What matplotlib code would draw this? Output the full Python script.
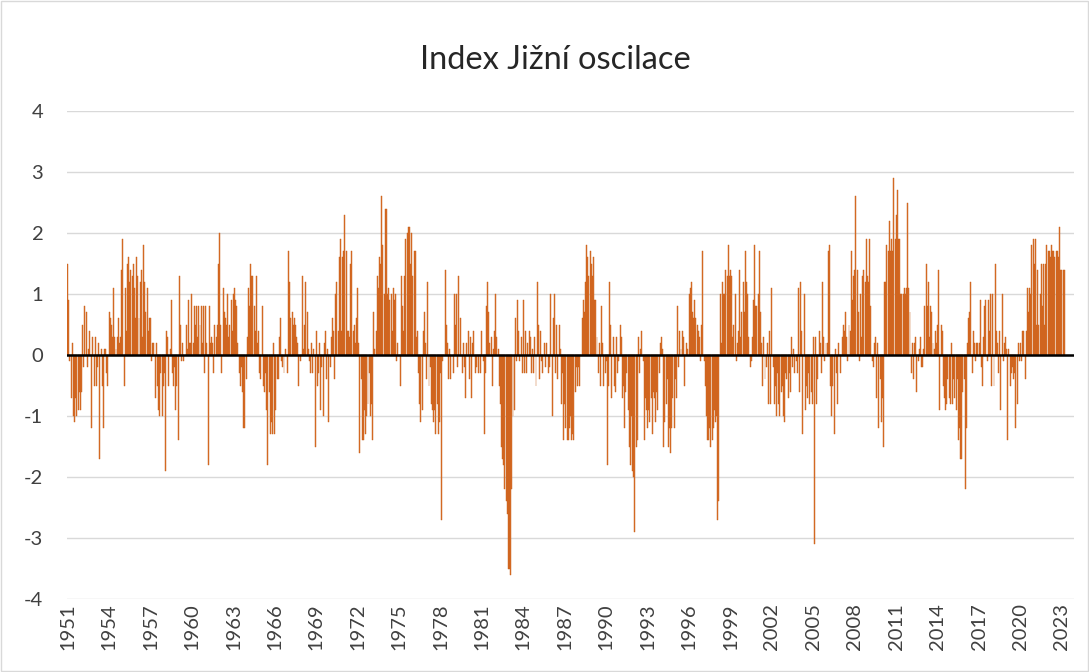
import matplotlib.pyplot as plt
import numpy as np
from matplotlib.patches import Rectangle

plt.rcParams['font.family'] = ['Lato', 'DejaVu Sans']

# monthly Southern Oscillation Index, Jan 1951 onwards
soi_1950s = [
    1.5, 0.9, -0.1, -0.7, 0.2, -1.0, -1.1, -0.7, -1.0, -0.9, -0.6, -0.9,
    -0.6, 0.5, -0.2, 0.8, 0.7, -0.2, 0.1, 0.4, 0.0, -1.2, 0.3, -0.5,
    0.3, -0.5, -0.2, 0.2, -1.7, 0.1, -0.5, -1.2, 0.1, 0.1, -0.3, -0.5,
    0.7, 0.6, 0.5, 0.3, 1.1, 0.3, 0.1, 0.3, 0.6, 0.2, 0.3, 1.4,
    1.9, -0.5, 1.1, 0.4, 1.5, 1.6, 1.2, 1.4, 1.3, 1.5, 1.1, 0.6,
    1.6, 1.3, 0.6, 1.2, 1.4, 0.3, 1.8, 1.2, 0.7, 1.1, 0.4, 0.6,
    0.6, -0.1, 0.2, 0.2, -0.7, 0.2, -0.5, -0.9, -1.0, -0.3, -1.0, -0.5,
    -0.3, -1.9, 0.4, 0.3, -0.5, 0.1, 0.9, -0.3, -0.5, -0.2, -0.9, -0.5,
    -1.4, 1.3, 0.5, -0.1, 0.2, -0.1, 0.0, 0.5, 0.1, 0.9, 0.2, 0.2,
]
soi_1960s = [
    1.0, 0.2, 0.8, 0.5, 0.8, 0.3, 0.8, 0.5, 0.8, 0.2, 0.8, -0.3,
    0.8, 0.2, -1.8, 0.8, 0.2, 0.3, 0.2, -0.3, 0.5, 0.3, 0.5, 1.5,
    2.0, 0.5, -0.3, 1.1, 0.7, 0.6, 0.5, 1.0, 0.3, 0.5, 0.9, 0.4,
    1.0, 1.1, 0.9, 0.8, 0.2, -0.3, -0.5, -0.2, -0.6, -1.2, -1.2, -0.4,
    0.3, 1.1, 0.8, 1.5, 1.3, 1.3, 0.8, 0.4, 1.3, 0.2, 0.4, -0.3,
    -0.4, 0.8, -0.5, -0.6, -0.3, -0.9, -1.8, -0.6, -1.3, -1.1, -1.3, 0.2,
    -1.3, -0.9, -0.4, -0.4, 0.3, 0.6, -0.1, -0.2, -0.3, 0.1, 0.0, -0.3,
    1.7, 1.2, 0.6, 0.7, 0.5, 0.6, 0.5, 0.3, 0.2, -0.5, -0.1, 0.0,
    1.3, 0.1, 0.5, 1.2, 0.7, 0.1, -0.1, -0.3, 0.2, -0.3, 0.1, -1.5,
    0.4, -0.5, -0.3, 0.2, -0.9, -0.2, -1.0, 0.2, 0.4, -0.4, 0.1, -1.1,
]
soi_1970s = [
    -0.2, 0.3, 0.6, 0.4, -0.4, 1.0, 1.2, 0.4, 1.6, 1.9, 0.4, 1.6,
    1.7, 2.3, 1.7, 0.4, 0.4, 0.3, 1.5, 1.7, 0.4, 0.5, 0.2, 0.6,
    1.1, 0.2, -1.6, -0.4, -1.4, -1.4, -0.9, -1.3, -1.0, -0.8, -0.3, -1.0,
    -0.8, -1.4, 0.7, 0.1, 0.4, 1.3, 1.1, 1.6, 1.5, 2.6, 1.8, 1.0,
    2.4, 2.4, 1.0, 1.1, 0.9, 1.0, 0.4, 1.1, 0.9, 1.0, -0.1, 0.2,
    0.0, -0.5, 1.3, 0.8, 0.4, 1.3, 1.9, 2.0, 2.1, 2.1, 1.5, 2.0,
    1.3, 1.7, 1.7, 0.3, 0.4, -0.3, -0.8, -1.1, -0.9, 0.4, 0.7, 0.2,
    -0.4, 1.2, -0.5, -0.2, -0.8, -0.9, -1.1, -0.9, -1.3, -0.8, -1.3, -1.1,
    -0.3, -2.7, -0.1, 0.0, 1.4, 0.5, 0.2, -0.4, 0.1, -0.4, 0.0, -0.3,
    1.0, 0.5, 1.0, -0.2, 1.3, 0.6, 0.0, -0.3, 0.2, -0.2, -0.7, 0.2,
]
soi_1980s = [
    0.4, -0.4, 0.3, -0.7, 0.2, 0.4, -0.3, -0.2, 0.0, -0.3, 0.0, -0.3,
    0.4, -0.1, -1.3, -0.3, 0.8, 1.2, 0.7, 0.2, 0.3, -0.5, 0.1, 0.4,
    1.0, 0.3, 0.1, -0.5, -0.8, -1.5, -1.7, -1.8, -2.2, -2.4, -2.6, -3.5,
    -3.5, -3.6, -2.2, -1.0, -0.9, 0.6, -0.1, 0.9, 0.4, -0.1, 0.3, -0.3,
    0.9, -0.3, 0.4, -0.3, 0.2, 0.4, 0.3, -0.3, 0.1, -0.3, 0.3, -0.5,
    1.2, 0.5, -0.4, 0.4, -0.1, -0.3, 0.2, -0.2, 0.2, 0.0, -0.3, -0.2,
    1.0, -1.0, 0.6, 1.0, -0.3, 0.5, -0.4, 0.5, 0.1, -0.8, -0.3, -1.4,
    -0.8, -1.2, -1.4, -1.4, -1.2, -1.0, -1.4, -1.3, -1.4, -0.6, -0.2, -0.5,
    -0.2, -0.5, 0.0, 0.6, 0.9, 0.7, 1.2, 1.8, 1.6, 1.3, 1.7, 1.5,
    1.3, 1.6, 0.9, 0.9, 0.3, -0.3, 0.2, -0.5, 0.8, 0.2, -0.5, -0.3,
]
soi_1990s = [
    -0.1, -1.8, -0.5, 1.2, 0.5, -0.7, 0.3, -0.5, -0.6, 0.3, -0.3, -0.1,
    0.5, 0.3, -0.7, -0.5, -1.2, -0.6, -0.3, -0.9, -1.5, -1.8, -1.0, -1.9,
    -2.0, -2.9, -1.5, -1.4, 0.3, -0.3, 0.1, 0.4, -0.1, -1.4, -0.7, -0.9,
    -1.2, -0.9, -1.1, -0.7, -1.3, -0.6, -0.7, -1.1, -0.6, -0.9, -0.3, 0.2,
    0.3, 0.1, -1.5, -1.1, -0.8, -0.4, -1.5, -1.2, -1.6, -1.2, -0.7, -1.2,
    -0.4, -0.7, 0.8, -0.2, 0.4, 0.1, 0.4, 0.3, -0.5, 0.0, 0.2, 0.1,
    1.0, 1.1, 1.2, 0.7, 0.6, 0.9, 0.6, 0.5, 0.4, 0.3, -0.1, 0.5,
    1.7, -0.1, -0.5, -1.0, -1.4, -1.4, -1.2, -1.5, -1.4, -1.2, -0.9, -1.1,
    -1.0, -2.7, -2.4, 1.0, 0.2, 1.2, 1.0, 1.0, 1.4, 1.3, 1.8, 1.3,
    1.4, 1.3, 0.3, 0.5, 1.0, -0.1, 0.2, 0.4, 1.4, 0.3, 0.7, 1.2,
]
soi_2000s = [
    0.7, 1.7, 1.2, 1.0, 0.3, -0.2, -0.1, 0.3, 0.9, 1.8, 0.8, 0.8,
    1.0, 1.7, 0.7, 0.2, -0.5, 0.3, -0.4, -0.2, 0.2, -0.8, 0.4, -0.8,
    1.1, -0.2, -0.8, -0.5, -1.0, -0.3, -0.8, -1.0, -0.6, -0.5, -1.0, -1.1,
    -0.3, -0.4, -0.7, -0.3, -0.6, 0.3, -0.2, 0.1, -0.3, -0.1, -0.3, 1.1,
    -0.6, 1.2, 0.4, -1.3, 1.0, -0.9, -0.5, -0.7, -0.3, -0.8, -0.6, -0.8,
    0.3, -3.1, 0.3, -0.8, -0.4, 0.4, 0.2, -0.3, 1.2, 0.3, -0.1, 0.2,
    0.2, 1.7, 1.8, -0.5, -1.0, -0.5, -1.3, 0.1, -0.3, -0.8, 0.2, 0.0,
    -0.3, 0.3, 0.5, 0.4, 0.7, 0.3, -0.1, 0.5, 0.4, 1.7, 0.9, 1.3,
    1.4, 2.6, 1.4, 0.7, -0.1, 1.0, 0.3, 1.3, 1.4, 1.2, 1.9, 1.3,
    1.2, 1.9, 0.8, -0.1, -0.2, 0.2, 0.3, -0.7, 0.2, -1.2, -0.4, -1.1,
]
soi_2010s = [
    -0.7, -1.5, 1.2, 1.2, 1.8, 1.7, 2.2, 1.7, 1.9, 1.7, 2.9, 1.9,
    2.3, 2.7, 1.9, 1.9, 1.0, 1.0, 1.0, 1.1, 1.0, 1.1, 2.5, 1.1,
    0.7, -0.3, 0.2, -0.4, 0.2, 0.3, -0.6, -0.1, 0.1, 0.3, -0.2, -0.2,
    0.1, 0.8, 1.5, 0.8, 1.2, 0.3, 0.8, 0.7, 0.2, 0.1, 0.4, 0.2,
    0.5, 1.4, -0.9, 0.5, 0.4, -0.5, -0.7, -0.9, -0.8, -0.4, -0.7, -0.8,
    0.2, -0.8, -0.4, -0.7, -0.9, -0.4, -1.4, -1.2, -1.7, -1.7, -0.6, -0.4,
    -2.2, -1.2, 0.2, 0.6, 0.7, 1.2, -0.3, 0.4, 0.2, -0.1, 0.2, 0.2,
    0.2, 0.9, -0.2, -0.5, 0.3, 0.8, 0.9, -0.1, 0.9, 0.4, 1.0, -0.5,
    1.0, -0.5, 1.5, 0.4, 0.2, -0.3, 0.4, -0.9, 1.0, -0.1, 0.2, 0.3,
    0.1, -1.4, 0.1, -0.5, -0.3, -0.2, -0.4, -0.3, -1.2, -0.8, 0.2, -0.1,
]
soi_2020s = [
    0.2, -0.1, 0.4, 0.4, -0.4, 0.4, 1.1, 0.7, 1.1, 1.0, 1.8, 1.9,
    1.5, 1.9, 0.5, 1.4, 0.5, 1.0, 1.5, 0.8, 1.5, 0.5, 1.5, 1.8,
    1.7, 1.7, 1.6, 1.8, 1.7, 1.7, 1.6, 1.7, 1.7, 1.6, 2.1, 1.4,
    1.4, 1.4, 1.4,
]

first_year = 1951
label_years = list(range(1951, 2024, 3))
y_ticks = [-4, -3, -2, -1, 0, 1, 2, 3, 4]

soi = soi_1950s + soi_1960s + soi_1970s + soi_1980s + soi_1990s + soi_2000s + soi_2010s + soi_2020s
months = np.arange(len(soi))

fig = plt.figure(figsize=(10.89, 6.72), dpi=100)
fig.patches.append(Rectangle((0.001, 0.001), 0.998, 0.998, transform=fig.transFigure,
                             fill=False, edgecolor='#D9D9D9', lw=1))

ax = fig.add_axes([0.0615, 0.1086, 0.9247, 0.7262])
ax.bar(months, soi, width=0.85, color='#DE7530', edgecolor='#C55A11', linewidth=0.3, zorder=2)
ax.axhline(0, color='black', lw=1.8, zorder=3)

ax.set_ylim(-4, 4)
ax.set_xlim(-0.6, 874.5)
ax.set_yticks(y_ticks)
ax.set_yticklabels([str(v) for v in y_ticks])
ax.set_xticks([(y - first_year) * 12 for y in label_years])
ax.set_xticklabels([str(y) for y in label_years], rotation=90)

ax.yaxis.grid(True, color='#D9D9D9', lw=1)
ax.set_axisbelow(True)
for s in ax.spines.values():
    s.set_visible(False)
ax.tick_params(axis='y', length=0, pad=17, labelsize=14.5, labelcolor='#404040')
ax.tick_params(axis='x', length=0, pad=3, labelsize=14.5, labelcolor='#404040')

fig.text(555 / 1089, 1 - 60 / 672, 'Index Jižní oscilace', ha='center', va='center',
         fontsize=23.5, color='#262626')

fig.savefig('out.png', dpi=100)
